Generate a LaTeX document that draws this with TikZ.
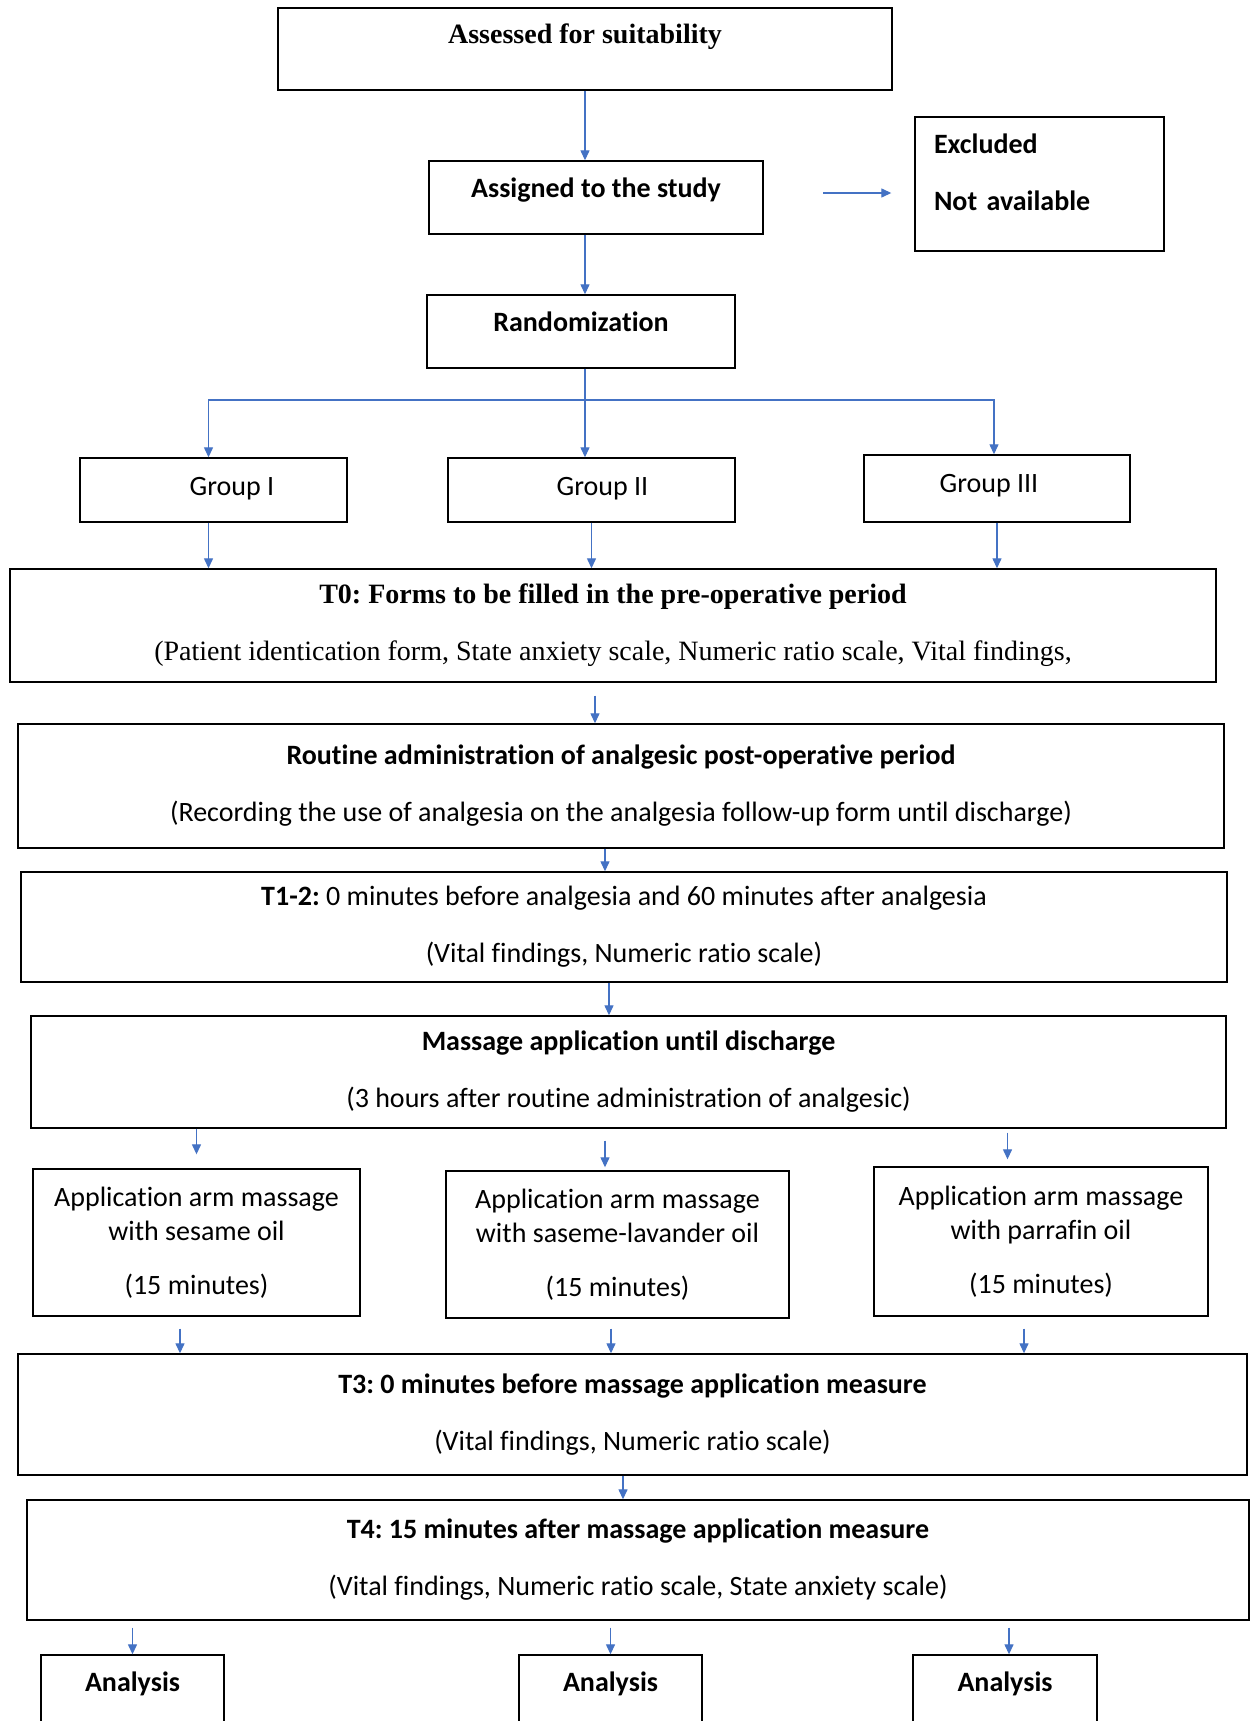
\documentclass[tikz,border=0pt]{standalone}
\usepackage{fontspec}
\setmainfont{Carlito}[Ligatures=NoCommon]
\newfontfamily\serifface{Liberation Serif}
\frenchspacing
\usetikzlibrary{arrows.meta}
\definecolor{fc-arrow}{HTML}{4472C4}

\begin{document}
\begin{tikzpicture}[
    x=1pt, y=-1pt, % one unit = one pixel of the page, y runs down
    >={Triangle[length=10pt,width=9pt]}
  ]

  % Global Style Definitions
  \tikzset{
    box/.style={draw, line width=1.4pt, inner sep=0pt, align=center, font=\fontsize{28}{57}\selectfont},
    appbox/.style={box, font=\fontsize{28}{34}\selectfont},
    serifbox/.style={box, font=\serifface\fontsize{28}{57}\selectfont},
    flow/.style={->, fc-arrow, line width=1.3pt},
    lift/.style={text height=18pt, text depth=#1}
  }

  \useasboundingbox (0,0) rectangle (1250,1721);
  \fill[white] (0,0) rectangle (1250,1721);
  \clip (0,0) rectangle (1250,1721);

  % Top of the chart
  \node (assess) [serifbox, minimum width=614, minimum height=82, lift=29pt] at (585,49) {\textbf{Assessed for suitability}};
  \node (assign) [box, minimum width=334, minimum height=73, lift=18pt] at (596,197.5) {\textbf{Assigned to the study}};
  \node (excl) [box, align=left, text width=211pt, inner xsep=19pt, minimum height=134, lift=80pt] at (1039.5,184) {\textbf{Excluded}\\\textbf{Not available}};
  \node (rand) [box, minimum width=308, minimum height=73, lift=18pt] at (581,331.5) {\textbf{Randomization}};
  \coordinate (exclfrom) at (823,193);
  \coordinate (split) at (585,400);

  % Groups
  \node (g1) [box, minimum width=267, minimum height=64, lift=7pt] at (213.5,490) {\hspace*{37pt}Group I};
  \node (g2) [box, minimum width=287, minimum height=64, lift=7pt] at (591.5,490) {\hspace*{22pt}Group II};
  \node (g3) [box, minimum width=266, minimum height=67, lift=10pt] at (997,488.5) {Group III\hspace*{16pt}};

  % Measurement steps
  \node (t0) [serifbox, minimum width=1206, minimum height=113] at (613,625.5) {\textbf{T0: Forms to be filled in the pre-operative period}\\(Patient identication form, State anxiety scale, Numeric ratio scale, Vital findings,};
  \node (routine) [box, minimum width=1206, minimum height=124] at (621,786) {\textbf{Routine administration of analgesic post-operative period}\\(Recording the use of analgesia on the analgesia follow-up form until discharge)};
  \node (t12) [box, minimum width=1206, minimum height=110] at (624,927) {\textbf{T1-2:} 0 minutes before analgesia and 60 minutes after analgesia\\(Vital findings, Numeric ratio scale)};
  \node (mass) [box, minimum width=1195, minimum height=112] at (628.5,1072) {\textbf{Massage application until discharge}\\(3 hours after routine administration of analgesic)};

  % Massage arms
  \node (app1) [appbox, minimum width=327, minimum height=147] at (196.5,1242.5) {Application arm massage\\with sesame oil\\[20pt](15 minutes)};
  \node (app2) [appbox, minimum width=343, minimum height=147] at (617.5,1244.5) {Application arm massage\\with saseme-lavander oil\\[20pt](15 minutes)};
  \node (app3) [appbox, minimum width=334, minimum height=149] at (1041,1241.5) {Application arm massage\\with parrafin oil\\[20pt](15 minutes)};

  \node (t3) [box, minimum width=1229, minimum height=121] at (632.5,1414.5) {\textbf{T3: 0 minutes before massage application measure}\\(Vital findings, Numeric ratio scale)};
  \node (t4) [box, minimum width=1222, minimum height=120] at (638,1560) {\textbf{T4: 15 minutes after massage application measure}\\(Vital findings, Numeric ratio scale, State anxiety scale)};

  % Analysis boxes, cut by the page edge
  \node (an1) [box, minimum width=183, minimum height=110, lift=55pt] at (132.5,1710) {\textbf{Analysis}};
  \node (an2) [box, minimum width=183, minimum height=110, lift=55pt] at (610.5,1710) {\textbf{Analysis}};
  \node (an3) [box, minimum width=184, minimum height=110, lift=55pt] at (1005,1710) {\textbf{Analysis}};

  % Connectors
  \draw[flow] (assess.south) -- (assess.south |- assign.north);
  \draw[flow] (assign.south -| assess.south) -- (rand.north -| assess.south);
  \draw[flow, shorten >=23pt] (exclfrom) -- (exclfrom -| excl.west);
  \draw[flow] (rand.south -| split) -- (g2.north -| split);
  \draw[flow] (split) -| ([xshift=-5pt]g1.north);
  \draw[flow] (split) -| ([xshift=-3pt]g3.north);

  \draw[flow] ([xshift=-5pt]g1.south) -- ([xshift=-5pt]g1.south |- t0.north);
  \draw[flow] (g2.south) -- (g2.south |- t0.north);
  \draw[flow] (g3.south) -- (g3.south |- t0.north);

  \draw[flow, shorten <=13pt] ([xshift=-18pt]t0.south) -- ([xshift=-18pt]t0.south |- routine.north);
  \draw[flow] ([xshift=-16pt]routine.south) -- ([xshift=-16pt]routine.south |- t12.north);
  \draw[flow] ([xshift=-15pt]t12.south) -- ([xshift=-15pt]t12.south |- mass.north);

  \draw[flow, shorten >=14pt] (app1.north |- mass.south) -- (app1.north);
  \draw[flow, shorten <=12pt, shorten >=3pt] ([xshift=-12.5pt]app2.north |- mass.south) -- ([xshift=-12.5pt]app2.north);
  \draw[flow, shorten <=4pt, shorten >=7pt] ([xshift=-33.5pt]app3.north |- mass.south) -- ([xshift=-33.5pt]app3.north);

  \draw[flow, shorten <=12pt] ([xshift=-16.5pt]app1.south) -- ([xshift=-16.5pt]app1.south |- t3.north);
  \draw[flow, shorten <=10pt] ([xshift=-6.5pt]app2.south) -- ([xshift=-6.5pt]app2.south |- t3.north);
  \draw[flow, shorten <=12pt] ([xshift=-17pt]app3.south) -- ([xshift=-17pt]app3.south |- t3.north);

  \draw[flow] ([xshift=-9.5pt]t3.south) -- ([xshift=-9.5pt]t3.south |- t4.north);

  \draw[flow, shorten <=7pt] (an1.north |- t4.south) -- (an1.north);
  \draw[flow, shorten <=7pt] (an2.north |- t4.south) -- (an2.north);
  \draw[flow, shorten <=7pt] ([xshift=4pt]an3.north |- t4.south) -- ([xshift=4pt]an3.north);

\end{tikzpicture}
\end{document}
